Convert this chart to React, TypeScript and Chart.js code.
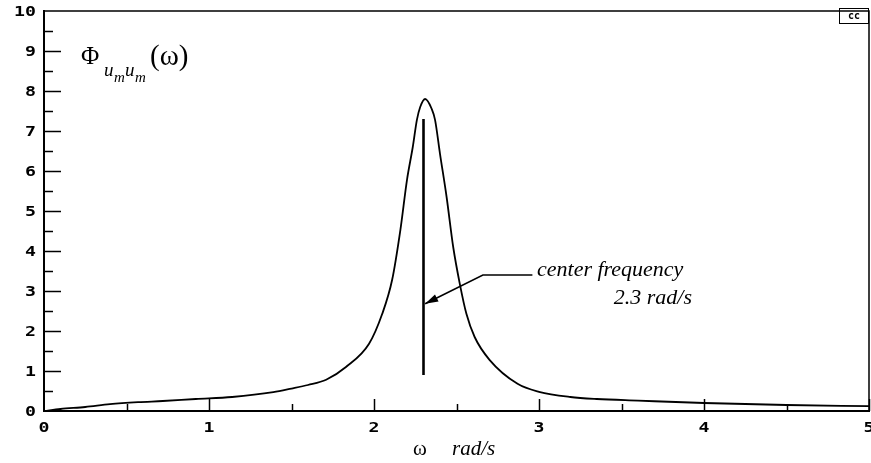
import React, { useEffect, useRef } from 'react';
import { Chart, registerables } from 'chart.js';

Chart.register(...registerables);

// ---- data ----
const omega = [0, 0.1, 0.25, 0.4, 0.57, 0.72, 0.92, 1.14, 1.39, 1.5, 1.6, 1.71, 1.83, 1.97, 2.05, 2.11, 2.16, 2.2, 2.235, 2.26, 2.28, 2.31, 2.35, 2.37, 2.4, 2.44, 2.48, 2.52, 2.56, 2.61, 2.7, 2.87, 3.0, 3.19, 3.35, 3.6, 4.0, 4.5, 5.0];
const spectrum = [0, 0.05, 0.1, 0.17, 0.22, 0.25, 0.3, 0.35, 0.47, 0.56, 0.65, 0.78, 1.1, 1.68, 2.43, 3.28, 4.53, 5.78, 6.6, 7.28, 7.6, 7.8, 7.55, 7.28, 6.43, 5.35, 4.1, 3.18, 2.43, 1.85, 1.28, 0.68, 0.48, 0.35, 0.3, 0.26, 0.2, 0.15, 0.12];
const centerOmega = [2.3, 2.3];
const centerValue = [0.9, 7.3];
const arrowOmega = [2.96, 2.66, 2.31];
const arrowValue = [3.4, 3.4, 2.68];
const xTickValues = [0, 1, 2, 3, 4, 5];
const yTickValues = [0, 1, 2, 3, 4, 5, 6, 7, 8, 9, 10];
const xTickLabels = ['0', '1', '2', '3', '4', '5'];
const yTickLabels = ['0', '1', '2', '3', '4', '5', '6', '7', '8', '9', '10'];
const annotationLines = ['center frequency', '2.3 rad/s'];
const xTitleSymbol = 'ω';
const xTitleUnit = 'rad/s';
const cornerTag = 'cc';

const W = 871;
const H = 463;
const LABEL_FONT = 'bold 14px "DejaVu Sans Mono", monospace';
const LABEL_STRETCH = 1.3;

function wideText(ctx: CanvasRenderingContext2D, text: string, x: number, y: number, align: 'left' | 'right' | 'center') {
  ctx.save();
  ctx.font = LABEL_FONT;
  ctx.textAlign = 'left';
  ctx.textBaseline = 'middle';
  const w = ctx.measureText(text).width * LABEL_STRETCH;
  let x0 = x;
  if (align === 'right') x0 = x - w;
  else if (align === 'center') x0 = x - w / 2;
  ctx.translate(x0, y);
  ctx.scale(LABEL_STRETCH, 1);
  ctx.fillText(text, 0, 0);
  ctx.restore();
}

const decorPlugin = {
  id: 'decor',
  afterDraw(chart: any) {
    const { ctx, chartArea: a, scales } = chart;
    const xs = scales.x;
    const ys = scales.y;
    ctx.save();
    ctx.strokeStyle = '#000';
    ctx.fillStyle = '#000';

    // frame (top & right)
    ctx.lineWidth = 1.5;
    ctx.beginPath();
    ctx.moveTo(a.left, a.top);
    ctx.lineTo(a.right, a.top);
    ctx.lineTo(a.right, a.bottom);
    ctx.stroke();

    // inward ticks on y axis
    ctx.lineWidth = 1.5;
    for (let i = 0; i < yTickValues.length * 2 - 1; i++) {
      const v = i / 2;
      if (v === 0 || v === 10) continue;
      const y = Math.round(ys.getPixelForValue(v)) + 0.5;
      const len = i % 2 === 0 ? 17 : 9;
      ctx.beginPath();
      ctx.moveTo(a.left, y);
      ctx.lineTo(a.left + len, y);
      ctx.stroke();
    }
    // inward ticks on x axis
    for (let i = 1; i < xTickValues.length * 2 - 1; i++) {
      const v = i / 2;
      const x = Math.round(xs.getPixelForValue(v)) + 0.5;
      const len = i % 2 === 0 ? 12 : 7;
      ctx.beginPath();
      ctx.moveTo(x, a.bottom);
      ctx.lineTo(x, a.bottom - len);
      ctx.stroke();
    }

    // tick labels
    yTickValues.forEach((v, i) => {
      wideText(ctx, yTickLabels[i], 36, ys.getPixelForValue(v) + 1, 'right');
    });
    xTickValues.forEach((v, i) => {
      wideText(ctx, xTickLabels[i], xs.getPixelForValue(v), 428, 'center');
    });

    // arrowhead
    const n = arrowOmega.length;
    const tx = xs.getPixelForValue(arrowOmega[n - 1]);
    const ty = ys.getPixelForValue(arrowValue[n - 1]);
    const px = xs.getPixelForValue(arrowOmega[n - 2]);
    const py = ys.getPixelForValue(arrowValue[n - 2]);
    const ang = Math.atan2(ty - py, tx - px);
    const L = 13, Wd = 4;
    ctx.beginPath();
    ctx.moveTo(tx, ty);
    ctx.lineTo(tx - L * Math.cos(ang) + Wd * Math.sin(ang), ty - L * Math.sin(ang) - Wd * Math.cos(ang));
    ctx.lineTo(tx - L * Math.cos(ang) - Wd * Math.sin(ang), ty - L * Math.sin(ang) + Wd * Math.cos(ang));
    ctx.closePath();
    ctx.fill();

    // annotation text
    ctx.textBaseline = 'alphabetic';
    ctx.textAlign = 'left';
    ctx.font = 'italic 22px "Liberation Serif", serif';
    ctx.fillText(annotationLines[0], 537, 276);
    ctx.textAlign = 'right';
    ctx.fillText(annotationLines[1], 692, 304);

    // Phi label
    ctx.textAlign = 'left';
    ctx.font = '25px "Liberation Serif", serif';
    ctx.fillText('Φ', 81, 64);
    ctx.font = 'italic 19px "Liberation Serif", serif';
    ctx.fillText('u', 104, 76);
    ctx.fillText('u', 125, 76);
    ctx.font = 'italic 15px "Liberation Serif", serif';
    ctx.fillText('m', 114, 82);
    ctx.fillText('m', 135, 82);
    ctx.font = '29px "Liberation Serif", serif';
    ctx.fillText('(ω)', 150, 65);

    // x-axis title
    ctx.font = '21px "Liberation Serif", serif';
    ctx.fillText(xTitleSymbol, 413, 455);
    ctx.font = 'italic 21px "Liberation Serif", serif';
    ctx.fillText(xTitleUnit, 452, 455);

    // cc box
    ctx.lineWidth = 1;
    ctx.strokeRect(839.5, 8.5, 29, 15);
    ctx.font = 'bold 10px "DejaVu Sans Mono", monospace';
    ctx.textAlign = 'center';
    ctx.textBaseline = 'middle';
    ctx.fillText(cornerTag, 854, 16.5);

    ctx.restore();
  },
};

export default function App() {
  const ref = useRef<HTMLCanvasElement>(null);

  useEffect(() => {
    const canvas = ref.current;
    if (!canvas) return;
    const chart = new Chart(canvas, {
      type: 'line',
      data: {
        datasets: [
          {
            data: omega.map((x, i) => ({ x, y: spectrum[i] })),
            borderColor: '#000',
            borderWidth: 1.8,
            pointRadius: 0,
            cubicInterpolationMode: 'monotone',
            fill: false,
          },
          {
            data: centerOmega.map((x, i) => ({ x, y: centerValue[i] })),
            borderColor: '#000',
            borderWidth: 2.6,
            pointRadius: 0,
            fill: false,
          },
          {
            data: arrowOmega.map((x, i) => ({ x, y: arrowValue[i] })),
            borderColor: '#000',
            borderWidth: 1.6,
            pointRadius: 0,
            tension: 0,
            fill: false,
          },
        ],
      },
      options: {
        responsive: false,
        animation: false,
        layout: { padding: { top: 11, right: 2, left: 0, bottom: 0 } },
        plugins: { legend: { display: false }, tooltip: { enabled: false }, title: { display: false } },
        scales: {
          x: {
            type: 'linear',
            min: 0,
            max: 5,
            afterFit: (s: any) => { s.height = H - 411; },
            afterBuildTicks: (s: any) => { s.ticks = xTickValues.map((v) => ({ value: v })); },
            ticks: { display: false },
            grid: { display: false, drawTicks: false },
            border: { display: true, color: '#000', width: 2 },
          },
          y: {
            type: 'linear',
            min: 0,
            max: 10,
            afterFit: (s: any) => { s.width = 44; },
            afterBuildTicks: (s: any) => { s.ticks = yTickValues.map((v) => ({ value: v })); },
            ticks: { display: false },
            grid: { display: false, drawTicks: false },
            border: { display: true, color: '#000', width: 2 },
          },
        },
      },
      plugins: [decorPlugin],
    } as any);
    return () => chart.destroy();
  }, []);

  return (
    <div style={{ position: 'absolute', left: 0, top: 0, width: W, height: H, background: '#fff' }}>
      <canvas ref={ref} width={W} height={H} style={{ display: 'block', width: W, height: H }} />
    </div>
  );
}
